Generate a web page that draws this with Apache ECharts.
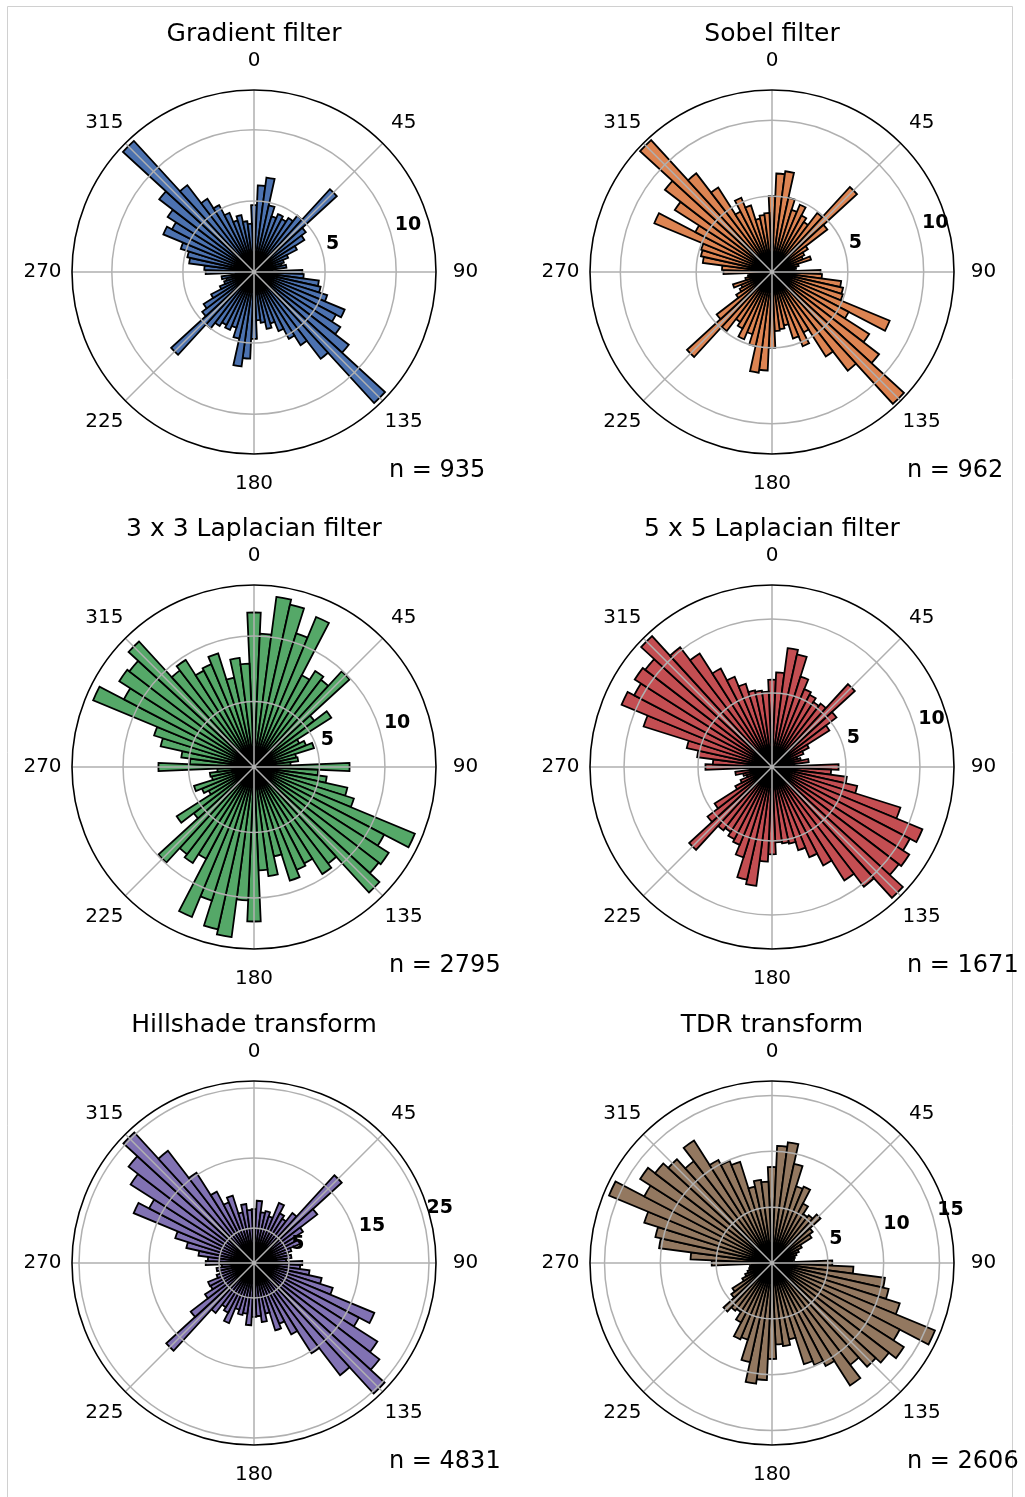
<!DOCTYPE html>
<html><head><meta charset="utf-8">
<script src="https://cdn.jsdelivr.net/npm/echarts@6/dist/echarts.min.js"></script>
<style>html,body{margin:0;padding:0;background:#fff}#c{width:1025px;height:1497px}</style>
</head><body><div id="c"></div><script>
// ---- data ----
const angleBins = [0,5,10,15,20,25,30,35,40,45,50,55,60,65,70,75,80,85,90,95,100,105,110,115,120,125,130,135,140,145,150,155,160,165,170,175,
  180,185,190,195,200,205,210,215,220,225,230,235,240,245,250,255,260,265,270,275,280,285,290,295,300,305,310,315,320,325,330,335,340,345,350,355];

const gradientValues = [4.7,6.1,6.7,4.8,4.1,4.4,4.2,4.5,5.0,7.9,4.6,4.2,3.4,2.6,2.2,2.0,2.3,1.3,3.4,3.5,4.6,4.8,5.4,6.9,6.5,7.2,8.4,12.5,7.7,6.1,5.3,4.5,3.8,4.1,3.6,3.4,
  4.7,6.1,6.7,4.8,4.1,4.4,4.2,4.5,5.0,7.9,4.6,4.2,3.4,2.6,2.2,2.0,2.3,1.3,3.4,3.5,4.6,4.8,5.4,6.9,6.5,7.2,8.4,12.5,7.7,6.1,5.3,4.5,3.8,4.1,3.6,3.4];
const sobelValues = [5.0,6.5,6.7,5.0,4.3,4.8,4.2,3.9,4.9,7.6,4.6,2.8,2.4,2.2,2.7,1.8,1.6,1.5,3.2,3.3,4.6,4.8,4.9,8.4,5.7,7.6,8.9,11.8,8.2,6.6,4.5,5.3,4.6,3.6,3.8,3.9,
  5.0,6.5,6.7,5.0,4.3,4.8,4.2,3.9,4.9,7.6,4.6,2.8,2.4,2.2,2.7,1.8,1.6,1.5,3.2,3.3,4.6,4.8,4.9,8.4,5.7,7.6,8.9,11.8,8.2,6.6,4.5,5.3,4.6,3.6,3.8,3.9];
const laplacian3Values = [11.8,10.2,13.1,12.7,10.7,12.4,7.9,8.7,8.4,9.9,5.8,7.0,3.9,4.3,4.8,3.3,3.4,2.8,7.3,4.9,5.6,7.3,8.0,13.3,11.2,12.2,12.0,13.0,9.3,9.7,8.3,8.5,9.1,7.0,8.4,7.9,
  11.8,10.2,13.1,12.7,10.7,12.4,7.9,8.7,8.4,9.9,5.8,7.0,3.9,4.3,4.8,3.3,3.4,2.8,7.3,4.9,5.6,7.3,8.0,13.3,11.2,12.2,12.0,13.0,9.3,9.7,8.3,8.5,9.1,7.0,8.4,7.9];
const laplacian5Values = [5.9,6.4,8.1,7.8,6.4,5.7,5.5,5.2,5.4,7.6,5.5,4.6,2.8,2.3,1.8,2.0,2.5,1.5,4.5,4.0,5.1,5.9,9.1,11.0,10.5,11.0,10.8,12.0,10.2,9.1,7.5,6.6,5.9,5.3,5.2,5.1,
  5.9,6.4,8.1,7.8,6.4,5.7,5.5,5.2,5.4,7.6,5.5,4.6,2.8,2.3,1.8,2.0,2.5,1.5,4.5,4.0,5.1,5.9,9.1,11.0,10.5,11.0,10.8,12.0,10.2,9.1,7.5,6.6,5.9,5.3,5.2,5.1];
const hillshadeValues = [7.7,8.9,7.3,7.6,7.0,9.3,8.0,7.5,9.0,17.0,11.4,8.3,7.0,7.1,5.6,5.0,5.4,4.6,6.9,6.6,8.0,9.9,11.8,18.6,16.9,20.9,22.6,25.3,20.2,15.3,11.5,9.4,10.1,7.4,8.5,7.6,
  7.7,8.9,7.3,7.6,7.0,9.3,8.0,7.5,9.0,17.0,11.4,8.3,7.0,7.1,5.6,5.0,5.4,4.6,6.9,6.6,8.0,9.9,11.8,18.6,16.9,20.9,22.6,25.3,20.2,15.3,11.5,9.4,10.1,7.4,8.5,7.6];
const tdrValues = [8.6,10.5,10.9,9.1,7.2,7.4,6.0,5.2,5.4,5.9,4.6,4.2,3.0,2.6,2.3,2.1,2.0,1.8,5.4,7.3,10.2,10.7,12.0,15.8,12.9,14.0,13.2,12.6,11.5,13.0,10.4,9.9,9.5,7.0,7.5,7.3,
  8.6,10.5,10.9,9.1,7.2,7.4,6.0,5.2,5.4,5.9,4.6,4.2,3.0,2.6,2.3,2.1,2.0,1.8,5.4,7.3,10.2,10.7,12.0,15.8,12.9,14.0,13.2,12.6,11.5,13.0,10.4,9.9,9.5,7.0,7.5,7.3];

const panelTitles = ['Gradient filter','Sobel filter','3 x 3 Laplacian filter','5 x 5 Laplacian filter','Hillshade transform','TDR transform'];
const sampleCounts = [935, 962, 2795, 1671, 4831, 2606];
const radialTickLabels = [[5,10],[5,10],[5,10],[5,10],[5,15,25],[5,10,15]];
const radialMax = [12.8, 12.0, 13.9, 12.3, 26, 16.3];
const panelColors = ['#4C72B0','#DD8452','#55A868','#C44E52','#8172B3','#937860'];
const allValues = [gradientValues, sobelValues, laplacian3Values, laplacian5Values, hillshadeValues, tdrValues];

// ---- layout ----
const R = 182;
const centers = [[254,272],[772,272],[254,767],[772,767],[254,1263],[772,1263]];
const FONT = 'DejaVu Sans';

function ringColors(i) {
  const ticks = [];
  for (let v = 0; v <= radialMax[i] + 1e-9; v += 5) ticks.push(v);
  if (ticks[ticks.length - 1] < radialMax[i]) ticks.push(radialMax[i]);
  return ticks.map(v => radialTickLabels[i].indexOf(v) >= 0 ? '#b0b0b0' : 'rgba(0,0,0,0)');
}

const polar = [], angleAxis = [], radiusAxis = [], series = [], title = [];
const hidden = {axisLine:{show:false}, axisTick:{show:false}, axisLabel:{show:false}, splitLine:{show:false}};

allValues.forEach((vals, i) => {
  const [cx, cy] = centers[i];
  const b = i * 3;
  // bars
  polar.push({center:[cx, cy], radius: R});
  angleAxis.push(Object.assign({polarIndex: b, type:'category', data: angleBins, startAngle: 92.5, clockwise: true, boundaryGap: true}, hidden));
  radiusAxis.push(Object.assign({polarIndex: b, type:'value', min:0, max: radialMax[i]}, hidden));
  // grid (on top)
  polar.push({center:[cx, cy], radius: R});
  angleAxis.push({polarIndex: b+1, type:'value', min:0, max:360, interval:45, startAngle:90, clockwise:true, z:10,
    axisLine:{show:true, lineStyle:{color:'#000', width:1.6}},
    axisTick:{show:false},
    axisLabel:{show:true, margin:29, color:'#000', fontFamily:FONT, fontSize:20,
      formatter: v => '{a|' + v + '}',
      rich:{a:{width:1, lineHeight:1, height:1, align:'center', verticalAlign:'middle', fontSize:20, fontFamily:FONT, color:'#000'}}},
    splitLine:{show:true, lineStyle:{color:'#b0b0b0', width:1.5}}});
  radiusAxis.push({polarIndex: b+1, type:'value', min:0, max: radialMax[i], interval:5, z:10,
    axisLine:{show:false}, axisTick:{show:false}, axisLabel:{show:false},
    splitLine:{show:true, lineStyle:{color: ringColors(i), width:1.5}}});
  // radial labels
  polar.push({center:[cx, cy], radius: R});
  angleAxis.push(Object.assign({polarIndex: b+2, type:'value', min:0, max:360, startAngle:15, clockwise:true}, hidden));
  radiusAxis.push({polarIndex: b+2, type:'value', min:0, max: radialMax[i], interval:5, z:20,
    axisLine:{show:false}, axisTick:{show:false}, splitLine:{show:false},
    axisLabel:{show:true, fontSize:19, fontWeight:'bold', color:'#000', fontFamily:FONT,
      align:'left', verticalAlign:'middle', margin:10, padding:[0,0,0,6],
      formatter: v => radialTickLabels[i].indexOf(v) >= 0 ? String(v) : ''}});
  series.push({type:'bar', coordinateSystem:'polar', polarIndex: b, data: vals,
    barCategoryGap:'0%', barGap:'0%', silent:true, z:2,
    itemStyle:{color: panelColors[i], borderColor:'#000', borderWidth:1.8}});
  title.push({text: panelTitles[i], left: cx, top: cy - 238, textAlign:'center', textVerticalAlign:'middle', padding:0,
    textStyle:{fontSize:25, fontWeight:'normal', color:'#000', fontFamily:FONT}});
  title.push({text: 'n = ' + sampleCounts[i], left: cx + 135, top: cy + 199, textAlign:'left', textVerticalAlign:'middle', padding:0,
    textStyle:{fontSize:24, fontWeight:'normal', color:'#000', fontFamily:FONT}});
});

const chart = echarts.init(document.getElementById('c'), null, {renderer:'canvas'});
chart.setOption({
  animation:false,
  backgroundColor:'#fff',
  textStyle:{fontFamily:FONT},
  title, polar, angleAxis, radiusAxis, series,
  graphic:[{type:'rect', shape:{x:7.5, y:6.5, width:1005, height:1500}, style:{fill:'none', stroke:'#d0d0d0', lineWidth:1}, z:0, silent:true}]
});
</script></body></html>
